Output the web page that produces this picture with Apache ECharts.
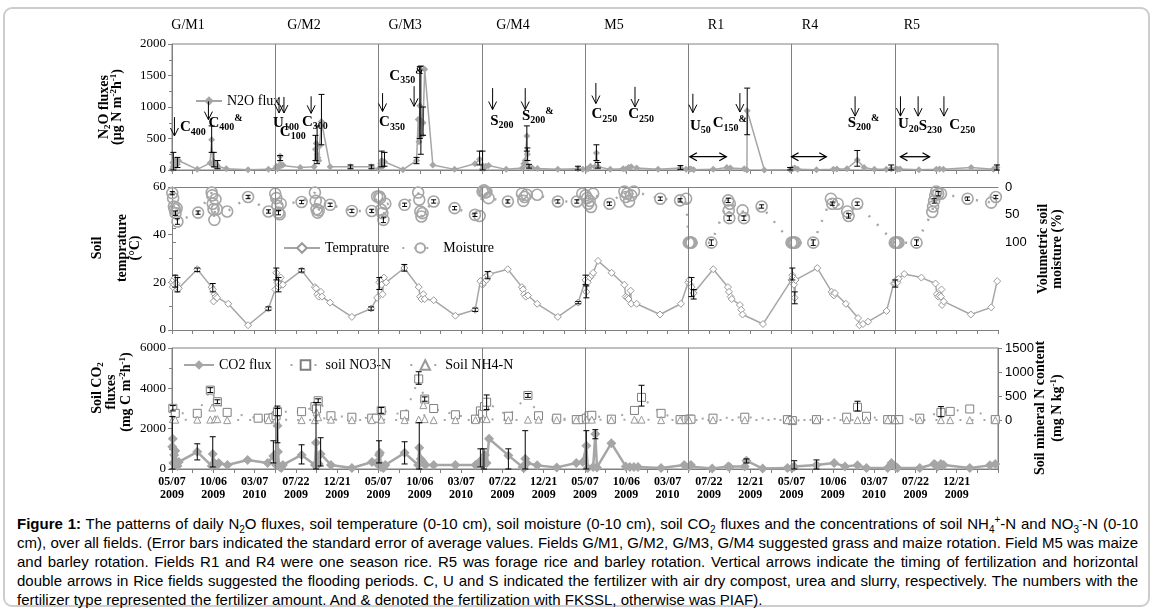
<!DOCTYPE html>
<html><head><meta charset="utf-8">
<script src="https://cdn.jsdelivr.net/npm/echarts@6/dist/echarts.min.js"></script>
<style>
html,body{margin:0;padding:0;background:#fff;width:1156px;height:613px;overflow:hidden}
#frame{position:absolute;left:3px;top:7px;width:1143px;height:596px;border:2px solid #cdcdcd;border-radius:9px;box-sizing:content-box}
#chart{position:absolute;left:0;top:0;width:1156px;height:510px}
#cap{position:absolute;left:17px;top:514px;width:1121px;font-family:'Liberation Sans',Arial,sans-serif;font-size:15px;line-height:19px;color:#000}
#cap .j{text-align:justify;text-align-last:justify;white-space:nowrap}
#cap .l{text-align:left;white-space:nowrap}
#cap sub,#cap sup{font-size:10px;line-height:0}
</style>
</head><body>
<div id="frame"></div>
<div id="chart"></div>
<div id="cap">
<div class="j"><b>Figure 1:</b> The patterns of daily N<sub>2</sub>O fluxes, soil temperature (0-10 cm), soil moisture (0-10 cm), soil CO<sub>2</sub> fluxes and the concentrations of soil NH<sub>4</sub><sup>+</sup>-N and NO<sub>3</sub><sup>-</sup>-N (0-10</div>
<div class="j">cm), over all fields. (Error bars indicated the standard error of average values. Fields G/M1, G/M2, G/M3, G/M4 suggested grass and maize rotation. Field M5 was maize</div>
<div class="j">and barley rotation. Fields R1 and R4 were one season rice. R5 was forage rice and barley rotation. Vertical arrows indicate the timing of fertilization and horizontal</div>
<div class="j">double arrows in Rice fields suggested the flooding periods. C, U and S indicated the fertilizer with air dry compost, urea and slurry, respectively. The numbers with the</div>
<div class="l">fertilizer type represented the fertilizer amount. And &amp; denoted the fertilization with FKSSL, otherwise was PIAF).</div>
</div>
<script>
// ---------- DATA (rows are [fieldIndex, dayInField, ...values]) ----------
const FIELD_DAYS = 380;
const fieldNames = ['G/M1','G/M2','G/M3','G/M4','M5','R1','R4','R5'];
const fieldNameDay = [59,106,98,115,107,102,68,63];
const tickLabels = ['05/07\n2009','10/06\n2009','03/07\n2010','07/22\n2009','12/21\n2009'];

const n2oFlux = [
 [0,1,10],[0,3,120],[0,5,60],[0,7,100],[0,9,40],[0,12,150],[0,16,130],[0,20,90],[0,24,150],
 [0,93,10],[0,140,110],[0,146,480],[0,150,90],[0,154,130],[0,158,60],[0,163,90],[0,168,60],
 [0,200,20],[0,280,5],[0,355,10],
 [1,2,30],[1,5,60],[1,8,20],[1,12,50],[1,18,220],[1,22,70],[1,28,80],
 [1,92,40],[1,143,50],[1,148,330],[1,151,420],[1,154,250],[1,157,200],[1,160,150],[1,163,380],[1,170,770],
 [1,202,50],[1,277,50],[1,354,50],
 [2,2,10],[2,5,40],[2,8,100],[2,12,150],[2,16,60],[2,22,130],
 [2,90,5],[2,140,150],[2,146,800],[2,149,450],[2,152,1020],[2,156,780],[2,160,550],[2,164,750],[2,170,1600],
 [2,200,80],[2,280,10],[2,355,100],[2,372,170],
 [3,3,20],[3,6,60],[3,10,30],[3,15,60],[3,25,70],
 [3,90,10],[3,150,30],[3,155,100],[3,160,150],[3,166,540],[3,168,250],[3,170,60],[3,174,50],[3,186,30],[3,205,25],
 [3,280,10],[3,354,20],[3,372,10],
 [4,5,10],[4,12,20],[4,20,60],[4,36,50],[4,42,270],[4,48,50],
 [4,93,10],[4,140,20],[4,150,10],[4,160,40],[4,170,50],[4,190,30],[4,269,10],[4,351,30],[4,372,10],
 [5,4,10],[5,10,15],[5,20,5],[5,92,10],[5,142,40],[5,155,30],[5,206,20],[5,216,0],[5,217,940],[5,280,0],[5,375,5],
 [6,4,20],[6,12,30],[6,23,10],[6,92,5],[6,154,10],[6,167,15],[6,204,20],[6,242,160],[6,267,40],[6,305,10],[6,349,10],[6,367,20],
 [7,4,20],[7,10,10],[7,19,15],[7,89,5],[7,153,10],[7,165,15],[7,179,10],[7,281,40],[7,363,10],[7,376,40]
];
const n2oErr = [
 [0,5,0,280],[0,20,40,200],[0,146,280,700],[0,154,50,280],[0,168,20,150],
 [1,18,150,230],[1,148,150,550],[1,154,100,700],[1,170,400,1200],[1,277,20,80],[1,354,20,80],
 [2,12,50,300],[2,22,60,280],[2,140,100,200],[2,152,500,1640],[2,156,250,1650],[2,164,550,1000],[2,372,80,300],
 [3,3,0,300],[3,166,300,700],[3,168,150,350],[3,174,30,90],[3,354,0,60],
 [4,42,150,400],[4,48,30,120],[4,351,10,70],
 [5,217,560,1300],[5,375,0,40],
 [6,242,60,310],[6,367,0,80],
 [7,376,0,80]
];
const temperature = [
 [0,1,20],[0,3,18],[0,5,21],[0,8,19],[0,12,22],[0,16,19.5],[0,20,17],[0,25,17.5],[0,93,25.5],
 [0,146,18],[0,150,17],[0,153,12],[0,157,15],[0,161,14],[0,166,13.5],[0,207,11],[0,280,2],[0,355,9],
 [1,0,17],[1,4,24],[1,8,20],[1,12,18],[1,16,19],[1,20,22],[1,28,19],[1,97,25],
 [1,146,18],[1,150,17.5],[1,155,15],[1,160,14],[1,168,16],[1,172,14],[1,202,11.5],[1,282,5.5],[1,353,9],[1,375,13.5],
 [2,3,20],[2,7,21],[2,11,19],[2,15,15],[2,20,22],[2,28,20],[2,95,26],
 [2,148,18],[2,153,14],[2,158,13],[2,165,15],[2,170,13],[2,203,12.5],[2,283,6],[2,356,8.5],[2,375,20.5],
 [3,3,19],[3,8,20],[3,12,22],[3,17,21],[3,22,23],[3,30,23.5],[3,96,25.5],
 [3,148,18],[3,152,17],[3,156,15],[3,162,14],[3,170,14.5],[3,204,11],[3,280,5.5],[3,355,11.5],
 [4,2,21],[4,5,16],[4,10,20],[4,18,22],[4,25,23],[4,30,24],[4,48,29],[4,98,24],
 [4,145,19],[4,150,14],[4,155,13.5],[4,160,13],[4,168,16.5],[4,170,11],[4,190,11],[4,276,6.5],[4,353,11],
 [5,0,20],[5,4,21],[5,8,19],[5,12,18],[5,20,15.5],[5,92,25.5],
 [5,146,18],[5,150,16],[5,156,14],[5,160,13],[5,190,10.5],[5,195,8.5],[5,200,6.5],[5,275,2.5],
 [6,0,21],[6,3,23],[6,6,22],[6,9,19],[6,12,13.5],[6,15,21],[6,95,26],
 [6,148,16],[6,152,15],[6,156,14.5],[6,160,15.5],[6,200,11],[6,245,5],[6,250,2],[6,263,2.5],[6,282,3.5],[6,350,8],[6,376,19.5],
 [7,2,19.5],[7,6,21],[7,10,20],[7,14,21.5],[7,35,23.5],[7,98,22],
 [7,150,19.5],[7,155,15],[7,160,14],[7,165,14.5],[7,170,14],[7,172,17],[7,174,10.5],[7,180,12],[7,280,6.5],[7,355,9.5],[7,377,20.5]
];
const tempErr = [
 [0,12,18,23],[0,20,16,22],[0,93,24.5,26],[0,150,16,19.5],[0,355,8.3,9.7],
 [1,4,21,26],[1,12,16,22],[1,97,24.3,25.7],[1,353,8.3,9.7],
 [2,3,17,22],[2,95,24.7,27.5],[2,356,7.8,9.2],
 [3,22,21.5,24.5],[3,355,11,12],
 [4,2,19,23],[4,5,13.5,18.5],
 [5,12,14,22],[5,20,13,17],
 [6,3,21,26],[6,12,11,16],
 [7,2,18,21]
];
const moisture = [
 [0,1,11],[0,4,20],[0,7,35],[0,10,40],[0,13,47],[0,17,38],[0,20,62],[0,96,46],
 [0,146,10],[0,148,15],[0,150,30],[0,153,40],[0,156,59],[0,160,22],[0,165,40],[0,203,44],[0,280,18],[0,355,44],
 [1,0,12],[1,4,20],[1,8,34],[1,12,46],[1,16,49],[1,20,30],[1,97,27],
 [1,146,10],[1,149,25],[1,152,40],[1,156,46],[1,160,42],[1,165,28],[1,202,32],[1,282,43],[1,355,43],[1,375,17],
 [2,3,17],[2,6,20],[2,10,41],[2,14,47],[2,18,59],[2,25,30],[2,96,32],
 [2,146,10],[2,150,23],[2,154,44],[2,158,53],[2,162,47],[2,203,26],[2,280,38],[2,355,50],[2,372,52],
 [3,3,8],[3,8,6],[3,12,10],[3,17,9],[3,25,20],[3,96,26],
 [3,148,12],[3,153,25],[3,158,18],[3,165,14],[3,204,14],[3,280,26],[3,350,26],[3,370,12],
 [4,2,15],[4,8,20],[4,12,30],[4,17,25],[4,22,36],[4,30,12],[4,90,30],
 [4,145,8],[4,150,18],[4,155,12],[4,162,26],[4,170,15],[4,180,8],[4,277,21],[4,350,24],[4,372,21],
 [5,2,100],[5,5,100],[5,8,100],[5,12,100],[5,85,100],
 [5,147,24],[5,149,42],[5,151,56],[5,153,30],[5,200,42],[5,205,56],[5,270,35],
 [6,0,100],[6,5,100],[6,9,100],[6,14,100],[6,80,100],
 [6,145,21],[6,150,30],[6,170,30],[6,205,44],[6,210,52],[6,242,30],
 [7,0,100],[7,5,100],[7,9,100],[7,14,100],[7,80,100],
 [7,138,45],[7,141,35],[7,145,25],[7,149,15],[7,153,8],[7,160,12],[7,170,12],[7,268,21],[7,355,28],[7,372,18]
];
const moistErr = [
 [0,1,8,14],[0,13,43,51],[0,20,57,67],[0,96,43,49],[0,280,15,21],[0,355,41,47],
 [1,12,42,50],[1,97,24,30],[1,202,29,35],[1,282,40,46],[1,355,40,46],
 [2,18,54,64],[2,96,29,35],[2,203,23,29],[2,280,35,41],[2,355,47,53],
 [3,96,23,29],[3,280,23,29],[3,350,23,29],
 [4,90,27,33],[4,277,18,24],[4,350,21,27],
 [5,85,95,105],[5,147,20,28],[5,151,52,60],[5,205,52,60],[5,270,32,38],
 [6,80,95,105],[6,150,27,33],[6,210,48,56],[6,242,27,33],
 [7,80,95,105],[7,145,21,29],[7,160,8,16],[7,268,18,24],[7,372,15,21]
];
const co2Flux = [
 [0,1,1100],[0,3,1500],[0,5,300],[0,8,700],[0,12,900],[0,16,350],[0,20,150],[0,25,350],[0,93,850],
 [0,146,150],[0,150,750],[0,155,300],[0,160,250],[0,166,200],[0,172,300],[0,204,200],[0,278,450],[0,352,300],[0,373,650],
 [1,3,200],[1,8,2150],[1,10,850],[1,14,150],[1,18,100],[1,22,50],[1,28,200],[1,97,700],
 [1,146,200],[1,150,1300],[1,155,300],[1,160,250],[1,167,750],[1,205,200],[1,282,50],[1,356,350],[1,372,300],
 [2,2,700],[2,5,800],[2,9,100],[2,13,150],[2,18,50],[2,25,200],[2,96,800],
 [2,146,200],[2,150,1050],[2,155,500],[2,160,400],[2,166,300],[2,172,200],[2,203,200],[2,283,200],[2,357,200],[2,375,400],
 [3,3,200],[3,8,500],[3,12,700],[3,18,300],[3,27,1500],[3,98,675],
 [3,150,100],[3,155,50],[3,160,510],[3,166,300],[3,204,180],[3,276,80],[3,348,300],[3,372,350],
 [4,5,1150],[4,10,50],[4,30,100],[4,38,1730],[4,44,80],[4,97,1280],
 [4,150,130],[4,165,100],[4,180,100],[4,195,100],[4,280,50],[4,365,200],
 [5,3,130],[5,10,200],[5,88,20],[5,147,130],[5,152,100],[5,208,130],[5,214,410],[5,274,20],[5,365,50],
 [6,2,50],[6,10,130],[6,92,200],[6,157,300],[6,197,130],[6,243,180],[6,276,50],[6,354,50],[6,368,300],
 [7,2,130],[7,10,50],[7,92,50],[7,145,250],[7,150,200],[7,158,130],[7,170,250],[7,180,200],[7,276,50],[7,350,180],[7,370,250]
];
const co2Err = [
 [0,1,0,2600],[0,93,450,1250],[0,150,100,1600],[0,373,300,1400],
 [1,8,1300,3000],[1,97,250,1200],[1,150,0,3300],[1,167,150,1550],
 [2,2,300,1400],[2,96,250,1350],[2,150,0,2300],[2,375,100,1000],
 [3,8,0,1000],[3,98,0,1000],[3,160,0,1900],
 [4,5,0,1900],[4,38,1500,1950],
 [5,214,300,500],[6,10,0,410],[6,92,0,450]
];
const no3N = [
 [0,3,253],[0,12,150],[0,93,150],[0,141,630],[0,167,390],[0,203,170],[0,317,50],[0,355,50],[0,372,60],
 [1,3,100],[1,8,185],[1,97,185],[1,146,290],[1,152,240],[1,158,410],[1,205,100],[1,282,70],[1,355,50],[1,372,50],
 [2,10,205],[2,96,120],[2,148,860],[2,170,445],[2,203,250],[2,283,120],[2,357,30],[2,375,200],
 [3,3,140],[3,10,290],[3,18,380],[3,98,90],[3,170,520],[3,209,100],[3,276,50],[3,348,20],[3,372,20],
 [4,5,50],[4,15,100],[4,25,110],[4,97,30],[4,182,210],[4,208,480],[4,280,150],[4,350,20],[4,372,20],
 [5,3,30],[5,10,30],[5,91,50],[5,208,70],[5,365,20],
 [6,3,0],[6,92,20],[6,203,70],[6,243,275],[6,276,90],[6,354,20],[6,370,20],
 [7,3,20],[7,15,20],[7,92,50],[7,170,170],[7,204,190],[7,276,240],[7,370,20]
];
const no3Err = [
 [0,3,200,310],[0,141,580,680],[0,167,350,430],[1,8,100,300],[1,158,370,450],
 [2,148,750,1010],[2,10,150,270],[2,170,400,490],[3,18,230,530],[3,170,480,560],
 [4,208,300,730],[6,243,200,400],[7,170,80,290]
];
const nh4N = [
 [0,3,30],[0,12,20],[0,93,20],[0,141,20],[0,148,270],[0,158,30],[0,167,30],[0,203,10],[0,355,10],
 [1,3,20],[1,97,10],[1,146,10],[1,152,170],[1,158,70],[1,205,20],[1,282,10],[1,355,10],
 [2,10,20],[2,96,10],[2,148,20],[2,165,320],[2,170,30],[2,203,10],[2,283,10],[2,357,10],
 [3,5,40],[3,18,30],[3,98,10],[3,170,20],[3,209,20],[3,276,10],[3,348,10],
 [4,5,20],[4,25,20],[4,97,10],[4,182,20],[4,208,20],[4,280,10],[4,350,10],
 [5,3,10],[5,91,10],[5,208,10],[5,365,10],
 [6,3,10],[6,92,10],[6,203,10],[6,243,10],[6,276,10],[6,354,10],
 [7,3,10],[7,92,10],[7,170,10],[7,204,10],[7,276,10],[7,370,10]
];
// fertilization arrows: [field, day, topValue, bottomValue]
const fertArrows = [
 [0,9,840,540],[0,134,1090,800],
 [1,14,1160,905],[1,32,1160,905],[1,132,1170,900],
 [2,15,1220,930],[2,131,1330,1010],
 [3,40,1300,960],[3,160,1300,960],
 [4,40,1380,1055],[4,184,1320,1000],
 [5,17,1210,910],[5,190,1220,920],
 [6,234,1170,855],
 [7,21,1170,855],[7,86,1170,855],[7,181,1170,855]
];
// fertilizer labels: [field, day, value, type, amount, mark]
const fertLabels = [
 [0,29,674,'C','400',''],[0,134,743,'C','400','&'],
 [1,-8,746,'U','100',''],[1,17,600,'C','100',''],[1,98,762,'C','300',''],
 [2,2,753,'C','350',''],[2,40,1496,'C','350','&'],
 [3,31,776,'S','200',''],[3,148,855,'S','200','&'],
 [4,24,881,'C','250',''],[4,159,881,'C','250',''],
 [5,6,697,'U','50',''],[5,90,739,'C','150','&'],
 [6,207,749,'S','200','&'],
 [7,12,723,'U','20',''],[7,88,697,'S','230',''],[7,201,707,'C','250','']
];
// flooding periods: [field, startDay, endDay, value]
const floodArrows = [[5,6,140,211],[6,0,128,211],[7,21,128,211]];

// ---------- CHART ----------
const SERIF = "'Liberation Serif','Times New Roman',serif";
const SANS = "'Liberation Sans',Arial,sans-serif";
const GREY = '#a6a6a6';
const AXC = '#808080';
const toXY = rows => rows.map(r => [r[0]*FIELD_DAYS + r[1]].concat(r.slice(2)));
const fieldBounds = fieldNames.slice(1).map((n,i) => (i+1)*FIELD_DAYS);
const XMAX = FIELD_DAYS*fieldNames.length;
const labelValues = [];
for (let v = 0; v < XMAX; v += 152) labelValues.push(v);
const plain = v => String(v);

function xAxis(grid, opts) {
  return Object.assign({
    type:'value', gridIndex:grid, min:0, max:XMAX, interval:76,
    axisLine:{show:true, lineStyle:{color:AXC, width:1}},
    axisTick:{show:true, length:4, lineStyle:{color:AXC}},
    axisLabel:{show:false}, splitLine:{show:false}
  }, opts || {});
}
function yAxis(grid, min, max, interval, opts) {
  return Object.assign({
    type:'value', gridIndex:grid, min, max, interval,
    axisLine:{show:true, lineStyle:{color:AXC, width:1}},
    axisTick:{show:true, length:4, lineStyle:{color:AXC}},
    minorTick:{show:true, splitNumber:2, length:3, lineStyle:{color:AXC}},
    axisLabel:{color:'#000', fontFamily:SERIF, fontSize:13, margin:6, formatter:plain},
    splitLine:{show:false}
  }, opts || {});
}
function errSeries(rows, xi, yi, cap) {
  return {
    type:'custom', xAxisIndex:xi, yAxisIndex:yi, silent:true, z:6,
    data: toXY(rows), encode:{x:0, y:[1,2]},
    renderItem:(params, api) => {
      const x = api.value(0);
      const a = api.coord([x, api.value(2)]), b = api.coord([x, api.value(1)]);
      const st = {stroke:'#000', lineWidth:1};
      return {type:'group', children:[
        {type:'line', shape:{x1:a[0],y1:a[1],x2:b[0],y2:b[1]}, style:st},
        {type:'line', shape:{x1:a[0]-cap,y1:a[1],x2:a[0]+cap,y2:a[1]}, style:st},
        {type:'line', shape:{x1:b[0]-cap,y1:b[1],x2:b[0]+cap,y2:b[1]}, style:st}
      ]};
    }
  };
}
const boundLines = {
  silent:true, symbol:['none','none'], label:{show:false}, animation:false,
  lineStyle:{color:AXC, width:1, type:'solid'}, emphasis:{disabled:true},
  data: fieldBounds.map(v => ({xAxis:v}))
};
const richLab = {
  m:{fontFamily:SERIF, fontWeight:'bold', fontSize:15, lineHeight:16, fill:'#000'},
  s:{fontFamily:SERIF, fontWeight:'bold', fontSize:10, lineHeight:16, padding:[9,0,0,0], fill:'#000'},
  p:{fontFamily:SERIF, fontWeight:'bold', fontSize:10, lineHeight:16, padding:[0,0,9,0], fill:'#000'}
};
const richTitle = {
  b:{fontFamily:SERIF, fontWeight:'bold', fontSize:14, lineHeight:13, fill:'#000'},
  s:{fontFamily:SERIF, fontWeight:'bold', fontSize:9, lineHeight:13, padding:[7,0,0,0], fill:'#000'},
  p:{fontFamily:SERIF, fontWeight:'bold', fontSize:9, lineHeight:13, padding:[0,0,7,0], fill:'#000'}
};
function vTitle(x, y, text) {
  return {type:'text', x, y, rotation:Math.PI/2, silent:true,
    style:{text, rich:richTitle, align:'center', verticalAlign:'middle', fill:'#000'}};
}

const chart = echarts.init(document.getElementById('chart'), null, {renderer:'canvas'});
const option = {
  animation:false,
  grid:[
    {left:172, right:158, top:44, height:126, show:true, borderColor:AXC, borderWidth:1, backgroundColor:'transparent', outerBoundsMode:'none'},
    {left:172, right:158, top:187, height:143, outerBoundsMode:'none'},
    {left:172, right:158, top:187, height:64, outerBoundsMode:'none'},
    {left:172, right:158, top:348, height:121, show:true, borderColor:AXC, borderWidth:1, backgroundColor:'transparent', outerBoundsMode:'none'}
  ],
  xAxis:[
    xAxis(0),
    xAxis(1),
    xAxis(2, {show:false}),
    xAxis(3, {axisLabel:{show:true, customValues:labelValues, color:'#000', fontFamily:SERIF, fontWeight:'bold', fontSize:12, lineHeight:13, margin:6,
      formatter: v => tickLabels[Math.round(v/152) % tickLabels.length]}}),
    xAxis(1, {position:'top', axisTick:{show:false}})
  ],
  yAxis:[
    yAxis(0, 0, 2000, 500),
    yAxis(1, 0, 60, 20),
    yAxis(2, 0, 115, 50, {position:'right', inverse:true, minorTick:{show:false},
      axisTick:{show:true, length:4, customValues:[0,25,50,75,100], lineStyle:{color:AXC}},
      axisLabel:{customValues:[0,50,100], color:'#000', fontFamily:SANS, fontSize:13, margin:7, formatter:plain}}),
    yAxis(3, 0, 6000, 2000),
    yAxis(3, -1000, 1500, 500, {position:'right', minorTick:{show:false},
      axisTick:{show:true, length:4, customValues:[0,500,1000,1500], lineStyle:{color:AXC}},
      axisLabel:{customValues:[0,500,1000,1500], color:'#000', fontFamily:SANS, fontSize:13, margin:7, formatter:plain}})
  ],
  legend:[
    {data:['N2O flux'], left:190, top:89, itemWidth:26, itemHeight:12, itemGap:10,
     textStyle:{fontFamily:SERIF, fontSize:14, color:'#000'}, selectedMode:false},
    {data:['Temprature','Moisture'], left:278, top:236, itemWidth:36, itemHeight:12, itemGap:12,
     textStyle:{fontFamily:SERIF, fontSize:14, color:'#000'}, selectedMode:false},
    {data:['CO2 flux','soil NO3-N','Soil NH4-N'], left:178, top:353, itemWidth:30, itemHeight:12, itemGap:18,
     textStyle:{fontFamily:SERIF, fontSize:14, color:'#000'}, selectedMode:false}
  ],
  graphic:[
    vTitle(111, 107, '{b|N}{s|2}{b|O fluxes}\n{b|(\u03bcg N m}{p|-2}{b|h}{p|-1}{b|)}'),
    vTitle(97, 248, '{b|Soil}'),
    vTitle(122, 248, '{b|temprature}'),
    vTitle(135, 248, '{b|(\u00b0C)}'),
    vTitle(1043, 249, '{b|Volumetric soil}'),
    vTitle(1057, 249, '{b|moisture (%)}'),
    vTitle(97, 388, '{b|Soil CO}{s|2}'),
    vTitle(111, 392, '{b|fluxes}'),
    vTitle(126, 392, '{b|(mg C m}{p|-2}{b|h}{p|-1}{b|)}'),
    vTitle(1040, 408, '{b|Soil mineral N content}'),
    vTitle(1057, 408, '{b|(mg N kg}{p|-1}{b|)}')
  ],
  series:[
    // ---- panel 1: N2O ----
    {name:'N2O flux', type:'line', xAxisIndex:0, yAxisIndex:0, data:toXY(n2oFlux), z:3,
     symbol:'diamond', symbolSize:7, itemStyle:{color:GREY}, lineStyle:{color:GREY, width:1.5},
     markLine:boundLines},
    errSeries(n2oErr, 0, 0, 3),
    {type:'custom', xAxisIndex:0, yAxisIndex:0, silent:true, z:7, data:toXY(fertArrows),
     renderItem:(params, api) => {
       const x = api.value(0);
       const a = api.coord([x, api.value(1)]), b = api.coord([x, api.value(2)]);
       const st = {stroke:'#000', lineWidth:1, fill:null};
       return {type:'group', children:[
         {type:'line', shape:{x1:a[0],y1:a[1],x2:b[0],y2:b[1]}, style:st},
         {type:'polyline', shape:{points:[[b[0]-4,b[1]-8],[b[0],b[1]],[b[0]+4,b[1]-8]]}, style:st}
       ]};
     }},
    {type:'custom', xAxisIndex:0, yAxisIndex:0, silent:true, z:7,
     data:floodArrows.map(r => [r[0]*FIELD_DAYS + r[1], r[0]*FIELD_DAYS + r[2], r[3]]),
     encode:{x:[0,1], y:2},
     renderItem:(params, api) => {
       const a = api.coord([api.value(0), api.value(2)]), b = api.coord([api.value(1), api.value(2)]);
       const st = {stroke:'#000', lineWidth:1.3, fill:null};
       return {type:'group', children:[
         {type:'line', shape:{x1:a[0],y1:a[1],x2:b[0],y2:b[1]}, style:st},
         {type:'polyline', shape:{points:[[a[0]+7,a[1]-4],[a[0],a[1]],[a[0]+7,a[1]+4]]}, style:st},
         {type:'polyline', shape:{points:[[b[0]-7,b[1]-4],[b[0],b[1]],[b[0]-7,b[1]+4]]}, style:st}
       ]};
     }},
    {type:'custom', xAxisIndex:0, yAxisIndex:0, silent:true, z:8, data:toXY(fertLabels.map(r => r.slice(0,3))),
     renderItem:(params, api) => {
       const p = api.coord([api.value(0), api.value(1)]);
       const L = fertLabels[params.dataIndex];
       const t = '{m|' + L[3] + '}{s|' + L[4] + '}' + (L[5] ? '{p|' + L[5] + '}' : '');
       return {type:'text', x:p[0], y:p[1], style:{text:t, rich:richLab, align:'left', verticalAlign:'middle', fill:'#000'}};
     }},
    {type:'custom', xAxisIndex:0, yAxisIndex:0, silent:true, z:8,
     data:fieldNames.map((n,i) => [i*FIELD_DAYS + fieldNameDay[i], 2000]),
     renderItem:(params, api) => {
       const p = api.coord([api.value(0), api.value(1)]);
       return {type:'text', x:p[0], y:p[1]-19, style:{text:fieldNames[params.dataIndex], fontFamily:SERIF, fontSize:14, fill:'#000', align:'center', verticalAlign:'middle'}};
     }},
    // ---- panel 2: temperature & moisture ----
    {name:'Temprature', type:'line', xAxisIndex:1, yAxisIndex:1, data:toXY(temperature), z:3,
     symbol:'diamond', symbolSize:7, itemStyle:{color:'#fff', borderColor:'#999', borderWidth:1},
     lineStyle:{color:GREY, width:1.5}, markLine:boundLines},
    errSeries(tempErr, 1, 1, 3),
    {name:'Moisture', type:'line', xAxisIndex:2, yAxisIndex:2, data:toXY(moisture), z:4, clip:false,
     symbol:'circle', symbolSize:11, itemStyle:{color:'rgba(255,255,255,0)', borderColor:GREY, borderWidth:1.6},
     lineStyle:{color:GREY, width:2.5, type:[2,10]}},
    errSeries(moistErr, 2, 2, 2.5),
    // ---- panel 3: CO2 & mineral N ----
    {name:'CO2 flux', type:'line', xAxisIndex:3, yAxisIndex:3, data:toXY(co2Flux), z:3,
     symbol:'diamond', symbolSize:10, itemStyle:{color:GREY}, lineStyle:{color:GREY, width:2.5},
     markLine:boundLines},
    errSeries(co2Err, 3, 3, 3),
    {name:'soil NO3-N', type:'line', xAxisIndex:3, yAxisIndex:4, data:toXY(no3N), z:4,
     symbol:'rect', symbolSize:8, itemStyle:{color:'#fff', borderColor:'#7f7f7f', borderWidth:1},
     lineStyle:{color:GREY, width:2, type:[2,10]}},
    errSeries(no3Err, 3, 4, 3),
    {name:'Soil NH4-N', type:'line', xAxisIndex:3, yAxisIndex:4, data:toXY(nh4N), z:4,
     symbol:'triangle', symbolSize:7, itemStyle:{color:'#fff', borderColor:'#999', borderWidth:1},
     lineStyle:{color:GREY, width:2, type:[2,10]}}
  ]
};
chart.setOption(option);
</script>
</body></html>
